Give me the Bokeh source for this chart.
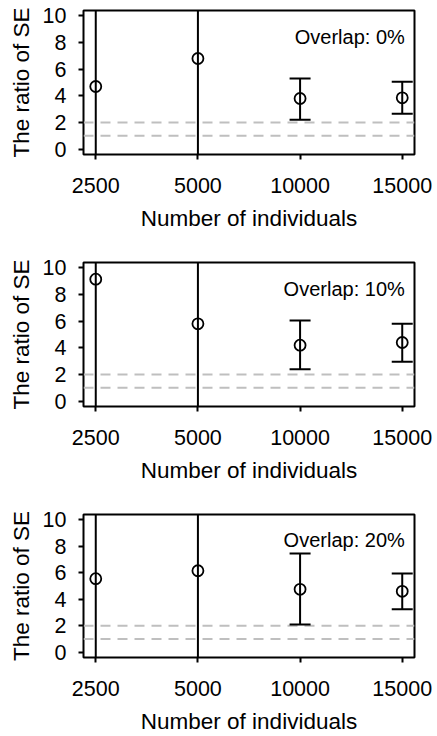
from bokeh.plotting import figure
from bokeh.layouts import column
from bokeh.models import FixedTicker, Span, Range1d
from bokeh.core.properties import value
from bokeh.embed import file_html
from bokeh.resources import INLINE

# ---- data ----
n_individuals = ["2500", "5000", "10000", "15000"]
overlap_labels = ["Overlap: 0%", "Overlap: 10%", "Overlap: 20%"]
ratio_0 = [4.7, 6.8, 3.8, 3.85]
lower_0 = [-6.0, -6.0, 2.2, 2.65]
upper_0 = [16.0, 16.0, 5.3, 5.05]
ratio_10 = [9.15, 5.8, 4.2, 4.4]
lower_10 = [-6.0, -6.0, 2.4, 2.95]
upper_10 = [16.0, 16.0, 6.05, 5.8]
ratio_20 = [5.55, 6.15, 4.75, 4.6]
lower_20 = [-6.0, -6.0, 2.1, 3.25]
upper_20 = [16.0, 16.0, 7.45, 5.95]
ref_lines = [1, 2]
y_ticks = [0, 2, 4, 6, 8, 10]

panels = [
    (overlap_labels[0], ratio_0, lower_0, upper_0),
    (overlap_labels[1], ratio_10, lower_10, upper_10),
    (overlap_labels[2], ratio_20, lower_20, upper_20),
]

FONT = "Liberation Sans"


def make_panel(label, mean, lower, upper, last):
    xs = list(range(1, len(n_individuals) + 1))
    h = 232 if last else 252
    p = figure(width=437, height=h,
               x_range=Range1d(0.88, 4.12), y_range=Range1d(-0.4, 10.4),
               output_backend="svg", toolbar_location=None,
               min_border_left=83, min_border_right=23,
               min_border_top=10, min_border_bottom=h - 154)
    p.grid.visible = False
    p.outline_line_color = "black"
    p.outline_line_width = 2
    p.outline_line_alpha = 1.0

    for yv in ref_lines:
        p.add_layout(Span(location=yv, dimension="width", line_color="#bfbfbf",
                          line_dash="10 7", line_width=2, level="underlay"))

    p.segment(x0=xs, y0=lower, x1=xs, y1=upper, line_color="black", line_width=2)
    p.scatter(x=xs, y=upper, marker="dash", size=21, line_color="black", line_width=2)
    p.scatter(x=xs, y=lower, marker="dash", size=21, line_color="black", line_width=2)
    p.scatter(x=xs, y=mean, marker="circle", size=11, fill_color=None,
              line_color="black", line_width=1.8)

    p.text(x=[4.025], y=[8.45], text=[label], text_align="right",
           text_baseline="alphabetic", text_font=value(FONT),
           text_font_size="20px", text_color="black")

    p.xaxis.ticker = FixedTicker(ticks=xs)
    p.xaxis.major_label_overrides = {x: lab for x, lab in zip(xs, n_individuals)}
    p.yaxis.ticker = FixedTicker(ticks=y_ticks)
    p.xaxis.axis_label = "Number of individuals"
    p.yaxis.axis_label = "The ratio of SE"
    for ax in (p.xaxis[0], p.yaxis[0]):
        ax.axis_line_color = None
        ax.major_tick_in = 0
        ax.major_tick_out = 5
        ax.major_tick_line_width = 2
        ax.major_tick_line_color = "black"
        ax.minor_tick_line_color = None
        ax.major_label_text_font = FONT
        ax.major_label_text_font_size = "21.5px"
        ax.major_label_text_color = "black"
        ax.axis_label_text_font = FONT
        ax.axis_label_text_font_size = "22.5px"
        ax.axis_label_text_font_style = "normal"
        ax.axis_label_text_color = "black"
    p.xaxis.major_label_standoff = 18
    p.xaxis.axis_label_standoff = 10
    p.yaxis.major_label_standoff = 12
    p.yaxis.axis_label_standoff = 6
    return p


figs = [make_panel(lab, m, lo, up, i == len(panels) - 1)
        for i, (lab, m, lo, up) in enumerate(panels)]
layout = column(*figs, spacing=0)
open("out.html", "w").write(file_html(layout, INLINE))
